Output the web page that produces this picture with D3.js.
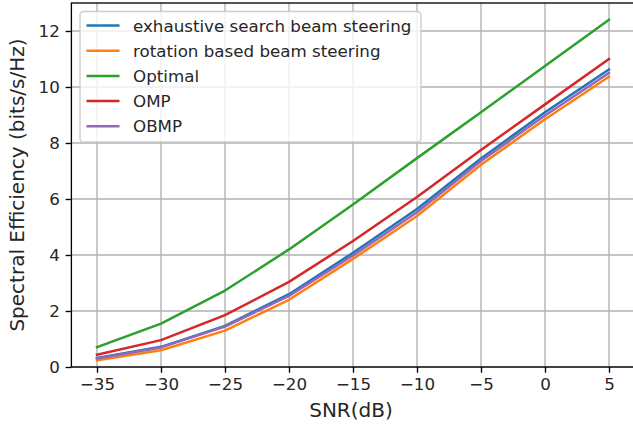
<!DOCTYPE html>
<html>
<head>
<meta charset="utf-8">
<script src="https://cdn.jsdelivr.net/npm/d3@7"></script>
<style>
  html, body { margin: 0; padding: 0; background: #fff; }
  svg { display: block; }
  text { font-family: "DejaVu Sans", sans-serif; fill: #262626; }
</style>
</head>
<body>
<svg id="chart" width="633" height="430"></svg>
<script>
// ---- data ----
const snr = [-35, -30, -25, -20, -15, -10, -5, 0, 5];
const exhaustive = [0.32, 0.72, 1.47, 2.60, 4.08, 5.64, 7.45, 9.10, 10.63];
const rotation   = [0.24, 0.60, 1.30, 2.40, 3.86, 5.39, 7.22, 8.85, 10.37];
const optimal    = [0.71, 1.55, 2.73, 4.20, 5.80, 7.46, 9.10, 10.75, 12.40];
const omp        = [0.44, 0.96, 1.85, 3.04, 4.50, 6.07, 7.75, 9.38, 11.00];
const obmp       = [0.30, 0.70, 1.44, 2.54, 3.98, 5.53, 7.36, 8.98, 10.50];
const seriesNames = ["exhaustive search beam steering", "rotation based beam steering", "Optimal", "OMP", "OBMP"];
const xTicks = [-35, -30, -25, -20, -15, -10, -5, 0, 5];
const yTicks = [0, 2, 4, 6, 8, 10, 12];
const xLabel = "SNR(dB)";
const yLabel = "Spectral Efficiency (bits/s/Hz)";

// ---- layout ----
const colors = ["#1f77b4", "#ff7f0e", "#2ca02c", "#d62728", "#9467bd"];
const seriesValues = [exhaustive, rotation, optimal, omp, obmp];
const series = seriesNames.map((n, i) => ({ name: n, color: colors[i], values: seriesValues[i] }));

const L = 71.4, R = 634.6, T = 3, B = 367;
const svg = d3.select("#chart");
const x = d3.scaleLinear().domain([-37, 7]).range([L, R]);
const y = d3.scaleLinear().domain([0, 13.0]).range([B, T]);

// grid
const grid = svg.append("g");
grid.selectAll(".gx").data(xTicks).enter().append("line")
  .attr("x1", d => x(d)).attr("x2", d => x(d)).attr("y1", T).attr("y2", B)
  .attr("stroke", "#b0b0b0").attr("stroke-width", 1.33);
grid.selectAll(".gy").data(yTicks).enter().append("line")
  .attr("x1", L).attr("x2", R).attr("y1", d => y(d)).attr("y2", d => y(d))
  .attr("stroke", "#b0b0b0").attr("stroke-width", 1.33);

// lines
const line = d3.line().x((d, i) => x(snr[i])).y(d => y(d));
svg.append("g").selectAll("path").data(series).enter().append("path")
  .attr("d", d => line(d.values))
  .attr("fill", "none").attr("stroke", d => d.color)
  .attr("stroke-width", 2.5).attr("stroke-linejoin", "round").attr("stroke-linecap", "square");

// axes
const xAxis = d3.axisBottom(x).tickValues(xTicks).tickSize(5.8).tickPadding(5.8).tickFormat(d3.format("d"));
const yAxis = d3.axisLeft(y).tickValues(yTicks).tickSize(5.8).tickPadding(5.8).tickFormat(d3.format("d"));
const gx = svg.append("g").attr("transform", `translate(0,${B})`).call(xAxis);
const gy = svg.append("g").attr("transform", `translate(${L},0)`).call(yAxis);
[gx, gy].forEach(g => {
  g.select(".domain").remove();
  g.selectAll(".tick line").attr("stroke", "#000").attr("stroke-width", 1.33);
  g.selectAll(".tick text").attr("font-size", "16.7px").attr("fill", "#262626")
    .style("font-family", "'DejaVu Sans', sans-serif");
});

// frame
svg.append("rect").attr("x", L).attr("y", T).attr("width", R - L).attr("height", B - T)
  .attr("fill", "none").attr("stroke", "#000").attr("stroke-width", 1.33);

// axis labels
svg.append("text").attr("x", (L + R) / 2 - 2).attr("y", 417).attr("text-anchor", "middle")
  .attr("font-size", "20px").text(xLabel);
svg.append("text").attr("transform", `translate(24,${(T + B) / 2}) rotate(-90)`)
  .attr("text-anchor", "middle").attr("font-size", "20px").text(yLabel);

// legend
const lg = svg.append("g");
lg.append("rect").attr("x", 80).attr("y", 11.5).attr("width", 341).attr("height", 130.5)
  .attr("rx", 3.5).attr("ry", 3.5)
  .attr("fill", "#fff").attr("fill-opacity", 0.8)
  .attr("stroke", "#cccccc").attr("stroke-width", 1.33);
const rowY = i => 25.5 + i * 25.2;
const items = lg.selectAll(".item").data(series).enter().append("g");
items.append("line").attr("x1", 86.5).attr("x2", 119.5)
  .attr("y1", (d, i) => rowY(i)).attr("y2", (d, i) => rowY(i))
  .attr("stroke", d => d.color).attr("stroke-width", 2.5);
items.append("text").attr("x", 133).attr("y", (d, i) => rowY(i))
  .attr("dy", "0.36em").attr("font-size", "16.7px").text(d => d.name);
</script>
</body>
</html>
